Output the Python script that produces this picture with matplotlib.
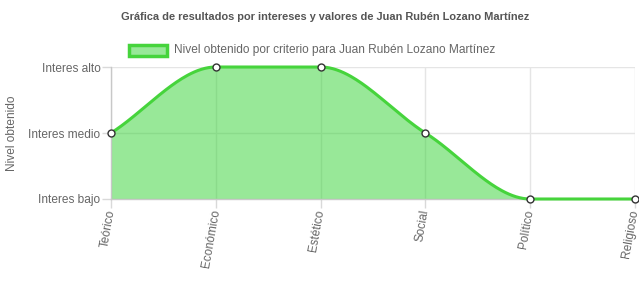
import matplotlib.pyplot as plt
import numpy as np
from matplotlib.patches import Rectangle

plt.rcParams['font.family'] = ['Liberation Sans', 'DejaVu Sans']

categories = ['Teórico', 'Económico', 'Estético', 'Social', 'Político', 'Religioso']
levels = [1, 2, 2, 1, 0, 0]
level_labels = ['Interes bajo', 'Interes medio', 'Interes alto']
series_name = 'Nivel obtenido por criterio para Juan Rubén Lozano Martínez'
title = 'Gráfica de resultados por intereses y valores de Juan Rubén Lozano Martínez'

line_color = '#46d43c'
fill_color = (50/255, 210/255, 50/255, 0.5)
txt = '#666666'


def monotone(x, y, n=60):
    # monotone cubic (Fritsch-Carlson), like chart.js cubicInterpolationMode='monotone'
    x = np.asarray(x, float)
    y = np.asarray(y, float)
    d = np.diff(y) / np.diff(x)
    m = np.zeros(len(y))
    m[0], m[-1] = d[0], d[-1]
    for k in range(1, len(y) - 1):
        m[k] = 0 if d[k-1] * d[k] <= 0 else (d[k-1] + d[k]) / 2
    xs, ys = [], []
    for k in range(len(d)):
        h = x[k+1] - x[k]
        t = np.linspace(0, 1, n)
        h00 = 2*t**3 - 3*t**2 + 1
        h10 = t**3 - 2*t**2 + t
        h01 = -2*t**3 + 3*t**2
        h11 = t**3 - t**2
        xs.append(x[k] + t*h)
        ys.append(h00*y[k] + h10*h*m[k] + h01*y[k+1] + h11*h*m[k+1])
    return np.concatenate(xs), np.concatenate(ys)


fig = plt.figure(figsize=(6.39, 3.08), dpi=100)
ax = fig.add_axes([111/639, 1 - 199/308, 524/639, 132/308])

xpos = np.arange(len(categories))
xs, ys = monotone(xpos, levels)
ax.fill_between(xs, ys, 0, color=fill_color, lw=0, zorder=2)
ax.plot(xs, ys, color=line_color, lw=2.2, zorder=3, clip_on=False, solid_capstyle='round')
ax.plot(xpos, levels, 'o', ms=5, mfc='white', mec='#333333', mew=1, zorder=4, clip_on=False)

ax.set_xlim(0, len(categories) - 1)
ax.set_ylim(0, 2)
ax.set_xticks(xpos)
ax.set_xticklabels(categories, rotation=80, ha='right', va='center',
                   rotation_mode='anchor', fontsize=8.6, color=txt)
ax.set_yticks([0, 1, 2])
ax.set_yticklabels(level_labels, fontsize=8.6, color=txt)
ax.tick_params(axis='both', length=6.5, color='#d9d9d9', width=1, pad=1)
ax.tick_params(axis='x', pad=1)
ax.grid(True, color='#e5e5e5', lw=1, zorder=1)
ax.set_axisbelow(True)
for s in ['top', 'right']:
    ax.spines[s].set_visible(False)
for s in ['left', 'bottom']:
    ax.spines[s].set_color('#c8c8c8')
    ax.spines[s].set_linewidth(1)

fig.text(12/639, 1 - 133/308, 'Nivel obtenido', rotation=90, ha='center', va='center',
         fontsize=8.6, color=txt)

fig.text(325/639, 1 - 17/308, title, ha='center', va='center',
         fontsize=7.9, fontweight='bold', color='#555555')

fig.patches.append(Rectangle((129/639, 1 - 56/308), 38/639, 11/308, transform=fig.transFigure,
                             facecolor=fill_color, edgecolor=line_color, lw=2.5))
fig.text(174/639, 1 - 49.5/308, series_name, ha='left', va='center', fontsize=8.6, color=txt)

fig.savefig('out.png', dpi=100)
